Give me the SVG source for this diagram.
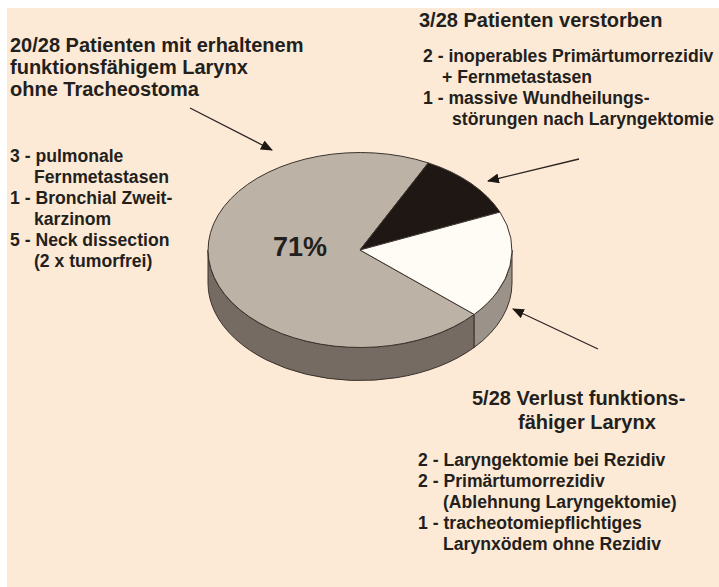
<svg xmlns="http://www.w3.org/2000/svg" width="719" height="587" viewBox="0 0 719 587">
<style>
  text { font-family: "Liberation Sans", Arial, sans-serif; font-weight: bold; fill: #231f1c; }
  .h { font-size: 20px; }
  .l { font-size: 17.6px; }
  .pc { font-size: 27px; }
  .edge { stroke: #3a322c; stroke-width: 1; stroke-linejoin: round; }
  .arrow { stroke: #2a2420; stroke-width: 1.3; fill: none; }
</style>
<defs>
  <marker id="ah" viewBox="0 0 12 10" refX="11" refY="5" markerWidth="12" markerHeight="10" markerUnits="userSpaceOnUse" orient="auto">
    <path d="M0,0 L12,5 L0,10 Z" fill="#1e1814"/>
  </marker>
</defs>
<rect x="0" y="0" width="719" height="587" fill="#ffffff"/>
<rect x="7" y="8" width="712" height="579" fill="#fdead6"/>

<g id="pie">
  <path id="side-gray" class="edge" fill="#766b62" d="M208,250 L208,283 A152,97.5 0 0 0 474.2,347.4 L474.2,314.4 A152,97.5 0 0 1 208,250 Z"/>
  <path id="side-white" class="edge" fill="#9b928a" d="M474.2,314.4 L474.2,347.4 A152,97.5 0 0 0 512,283 L512,250 A152,97.5 0 0 1 474.2,314.4 Z"/>
  <path id="slice-gray" class="edge" fill="#bdb2a6" d="M360,250 L474.2,314.4 A152,97.5 0 1 1 428.3,162.9 Z"/>
  <path id="slice-black" class="edge" fill="#1e1713" d="M360,250 L428.3,162.9 A152,97.5 0 0 1 500,212.1 Z"/>
  <path id="slice-white" class="edge" fill="#fffcf6" d="M360,250 L500,212.1 A152,97.5 0 0 1 474.2,314.4 Z"/>
  <text class="pc" x="273" y="256">71%</text>
</g>

<g id="label-erhalten">
  <text class="h" x="10" y="52">20/28 Patienten mit erhaltenem</text>
  <text class="h" x="10" y="74">funktionsfähigem Larynx</text>
  <text class="h" x="10" y="96">ohne Tracheostoma</text>
</g>

<g id="list-erhalten">
  <text class="l" x="10" y="162">3 - pulmonale</text>
  <text class="l" x="34" y="183">Fernmetastasen</text>
  <text class="l" x="10" y="204">1 - Bronchial Zweit-</text>
  <text class="l" x="34" y="225">karzinom</text>
  <text class="l" x="10" y="246">5 - Neck dissection</text>
  <text class="l" x="34" y="267">(2 x tumorfrei)</text>
</g>

<g id="label-verstorben">
  <text class="h" x="419" y="27">3/28 Patienten verstorben</text>
  <text class="l" x="423" y="62">2 - inoperables Primärtumorrezidiv</text>
  <text class="l" x="442" y="83">+ Fernmetastasen</text>
  <text class="l" x="423" y="104">1 - massive Wundheilungs-</text>
  <text class="l" x="452" y="125">störungen nach Laryngektomie</text>
</g>

<g id="label-verlust">
  <text class="h" x="472" y="405">5/28 Verlust funktions-</text>
  <text class="h" x="518" y="429">fähiger Larynx</text>
  <text class="l" x="418" y="466">2 - Laryngektomie bei Rezidiv</text>
  <text class="l" x="418" y="487">2 - Primärtumorrezidiv</text>
  <text class="l" x="443" y="508">(Ablehnung Laryngektomie)</text>
  <text class="l" x="418" y="529">1 - tracheotomiepflichtiges</text>
  <text class="l" x="443" y="550">Larynxödem ohne Rezidiv</text>
</g>

<g id="connectors">
  <line class="arrow" x1="190" y1="108" x2="272" y2="150" marker-end="url(#ah)"/>
  <line class="arrow" x1="579" y1="159" x2="488" y2="181" marker-end="url(#ah)"/>
  <line class="arrow" x1="598" y1="349" x2="513" y2="309" marker-end="url(#ah)"/>
</g>
</svg>
